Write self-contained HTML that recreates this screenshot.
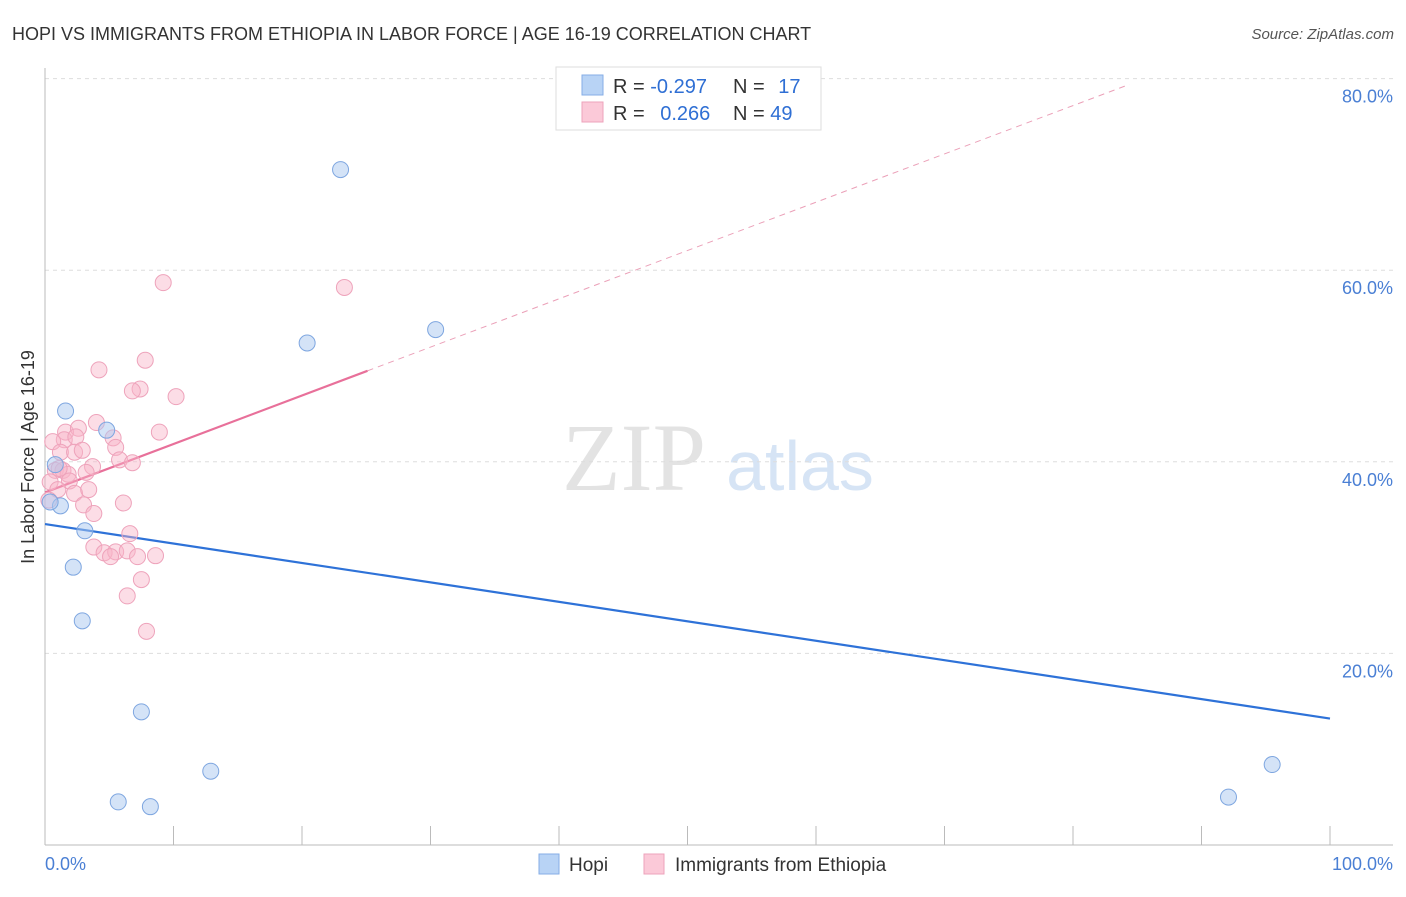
<!DOCTYPE html>
<html><head><meta charset="utf-8"><style>
body{margin:0;background:#fff;font-family:"Liberation Sans",sans-serif;}
</style></head><body>
<svg id="chart" width="1406" height="892" xmlns="http://www.w3.org/2000/svg" style="font-family:'Liberation Sans',sans-serif">
<text x="12" y="40" font-size="18" fill="#333">HOPI VS IMMIGRANTS FROM ETHIOPIA IN LABOR FORCE | AGE 16-19 CORRELATION CHART</text>
<text x="1394" y="39" font-size="15" fill="#555" text-anchor="end" font-style="italic">Source: ZipAtlas.com</text>
<text x="634" y="490" font-size="96" fill="#e3e3e3" text-anchor="middle" font-family="Liberation Serif,serif">ZIP</text>
<text x="800" y="490" font-size="70" fill="#d6e4f5" text-anchor="middle">atlas</text>
<g id="grid"></g><g id="axes"></g><g id="lines"></g><g id="pts"></g>
<text transform="translate(34,457) rotate(-90)" font-size="18" fill="#333" text-anchor="middle">In Labor Force | Age 16-19</text>
<g>
<rect x="556" y="67" width="265" height="63" fill="#fff" stroke="#ddd"/>
<rect x="582" y="75" width="21" height="20" fill="#b8d3f5" stroke="#86aee6"/>
<rect x="582" y="102" width="21" height="20" fill="#fbc9d8" stroke="#eea3bb"/>
<text x="613" y="93" font-size="20" fill="#333">R = <tspan fill="#2f6fd4">-0.297</tspan></text>
<text x="733" y="93" font-size="20" fill="#333">N = <tspan fill="#2f6fd4" dx="8">17</tspan></text>
<text x="613" y="120" font-size="20" fill="#333">R = <tspan fill="#2f6fd4" dx="10">0.266</tspan></text>
<text x="733" y="120" font-size="20" fill="#333">N = <tspan fill="#2f6fd4">49</tspan></text>
</g>
<g>
<rect x="539" y="854" width="20" height="20" fill="#b8d3f5" stroke="#86aee6"/>
<text x="569" y="871" font-size="19" fill="#333">Hopi</text>
<rect x="644" y="854" width="20" height="20" fill="#fbc9d8" stroke="#eea3bb"/>
<text x="675" y="871" font-size="19" fill="#333">Immigrants from Ethiopia</text>
</g>
<text x="45" y="870" font-size="18" fill="#4a7fd4">0.0%</text>
<text x="1393" y="870" font-size="18" fill="#4a7fd4" text-anchor="end">100.0%</text>
</svg>
<script>
const yTicks=[20,40,60,80];
const yTickLabels=["20.0%","40.0%","60.0%","80.0%"];
const hopiX=[1.6,4.8,0.8,1.2,0.4,3.1,2.2,2.9,7.5,12.9,5.7,8.2,20.4,23.0,30.4,95.5,92.1];
const hopiY=[45.3,43.3,39.7,35.4,35.8,32.8,29.0,23.4,13.9,7.7,4.5,4.0,52.4,70.5,53.8,8.4,5.0];
const ethX=[9.2,23.3,7.8,4.2,7.4,6.8,10.2,4.0,8.9,1.6,2.6,1.5,2.4,5.3,5.5,0.6,1.2,2.3,2.9,5.8,6.8,3.7,0.8,1.4,1.8,3.2,0.4,1.9,1.0,2.3,3.4,3.0,6.1,3.8,6.6,3.8,4.6,5.5,5.1,6.4,7.2,8.6,7.5,6.4,7.9,0.3,1.1];
const ethY=[58.7,58.2,50.6,49.6,47.6,47.4,46.8,44.1,43.1,43.1,43.5,42.3,42.6,42.5,41.5,42.1,41.0,41.0,41.2,40.2,39.9,39.5,39.1,39.1,38.7,38.9,37.9,38.0,37.1,36.7,37.1,35.5,35.7,34.6,32.5,31.1,30.5,30.6,30.1,30.7,30.1,30.2,27.7,26.0,22.3,36.0,39.3];
const hopiTrend=[[0,33.5],[100,13.2]];
const ethTrendSolid=[[0,36.8],[25.1,49.5]];
const ethTrendDash=[[25.1,49.5],[84.4,79.4]];
const sx=v=>45+v*12.85, sy=v=>845-v*9.58;
const NS="http://www.w3.org/2000/svg";
function mk(par,tag,at){const e=document.createElementNS(NS,tag);for(const k in at)e.setAttribute(k,at[k]);document.getElementById(par).appendChild(e);return e;}
yTicks.forEach((t,i)=>{
 const l=mk('grid','line',{x1:45,x2:1393,y1:sy(t),y2:sy(t),stroke:'#ddd','stroke-dasharray':'4,4'});
 
 
 const tx=mk('grid','text',{x:1393,y:sy(t)+24,'font-size':18,fill:'#4a7fd4','text-anchor':'end'});
 tx.textContent=yTickLabels[i];
 
 
});
mk('axes','line',{x1:45,x2:45,y1:68,y2:845,stroke:'#bbb'});
mk('axes','line',{x1:45,x2:1393,y1:845,y2:845,stroke:'#bbb'});
for(let i=0;i<=10;i++){const t=mk('axes','line',{x1:sx(i*10),x2:sx(i*10),y1:826,y2:845,stroke:'#bbb'});}
function ln(p,col,dash,name){const a={x1:sx(p[0][0]),y1:sy(p[0][1]),x2:sx(p[1][0]),y2:sy(p[1][1]),stroke:col,'stroke-width':dash?1:2.2};if(dash)a['stroke-dasharray']='6,5';const e=mk('lines','line',a);}
ln(hopiTrend,'#2e72d8',false,'hopi-trend-line');
ln(ethTrendSolid,'#e8709a',false,'ethiopia-trend-line');
ln(ethTrendDash,'#eba0b8',true,'ethiopia-trend-extension');
ethX.forEach((x,i)=>{const c=mk('pts','circle',{cx:sx(x),cy:sy(ethY[i]),r:8,fill:'rgba(248,180,200,0.45)',stroke:'#eea3bb','stroke-width':1});});
hopiX.forEach((x,i)=>{const c=mk('pts','circle',{cx:sx(x),cy:sy(hopiY[i]),r:8,fill:'rgba(170,200,240,0.5)',stroke:'#7ea6e0','stroke-width':1});});
</script>
</body></html>
